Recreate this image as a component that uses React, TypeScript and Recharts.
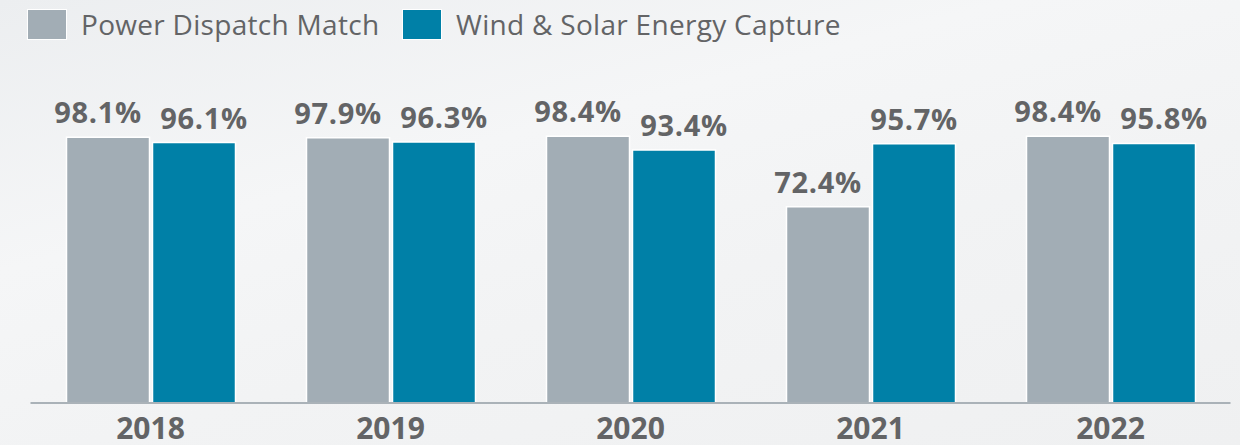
import React from 'react';
import { BarChart, Bar, XAxis, YAxis, Legend, LabelList } from 'recharts';

const YEARS = ['2018', '2019', '2020', '2021', '2022'];
const DISPATCH_MATCH = [98.1, 97.9, 98.4, 72.4, 98.4];
const ENERGY_CAPTURE = [96.1, 96.3, 93.4, 95.7, 95.8];

const GRAY = '#a2adb5';
const TEAL = '#0080a7';
const TEXT = '#636466';
const FONT = '"Open Sans", "Noto Sans", sans-serif';

const data = YEARS.map((year, i) => ({
  year,
  dispatch: DISPATCH_MATCH[i],
  capture: ENERGY_CAPTURE[i],
}));

// labels get nudged apart when the two bars of a year are close in height
function makeLabel(side: 'left' | 'right') {
  return (props: any) => {
    const { x, y, width, value, index } = props;
    const close = Math.abs(DISPATCH_MATCH[index] - ENERGY_CAPTURE[index]) < 10;
    let dx = 0;
    if (side === 'left') dx = -10;
    else if (close) dx = 10;
    return (
      <text
        x={x + width / 2 + dx}
        y={y - 14}
        textAnchor="middle"
        fill={TEXT}
        fontFamily={FONT}
        fontWeight={700}
        fontSize={29}
        letterSpacing={0.7}
      >
        {`${value.toFixed(1)}%`}
      </text>
    );
  };
}

function LegendContent() {
  const items = [
    { name: 'Power Dispatch Match', color: GRAY, x: 28 },
    { name: 'Wind & Solar Energy Capture', color: TEAL, x: 403 },
  ];
  return (
    <div style={{ position: 'relative', height: 0 }}>
      {items.map((it) => (
        <div key={it.name} style={{ position: 'absolute', left: it.x, top: 10, display: 'flex', alignItems: 'center' }}>
          <div style={{ width: 38, height: 29, background: it.color, boxShadow: '0 0 0 1px #fff' }} />
          <span
            style={{
              marginLeft: 15,
              fontFamily: FONT,
              fontSize: 28,
              color: TEXT,
              lineHeight: '29px',
              letterSpacing: 0.3,
              whiteSpace: 'nowrap',
            }}
          >
            {it.name}
          </span>
        </div>
      ))}
    </div>
  );
}

export default function App() {
  return (
    <div
      style={{
        position: 'absolute',
        left: 0,
        top: 0,
        width: 1240,
        height: 445,
        background: 'linear-gradient(165deg, #eceef0 0%, #f5f6f7 35%, #f2f3f4 60%, #eff0f1 100%)',
      }}
    >
      <BarChart
        width={1240}
        height={445}
        data={data}
        margin={{ top: 132, right: 9.5, bottom: 2, left: 30.5 }}
        barSize={83}
        barGap={3}
      >
        <XAxis
          dataKey="year"
          height={40}
          tickSize={0}
          tickMargin={15}
          axisLine={{ stroke: '#aab2b8', strokeWidth: 2 }}
          tickLine={false}
          tick={{ fill: TEXT, fontFamily: FONT, fontWeight: 700, fontSize: 30 }}
        />
        <YAxis hide domain={[0, 100]} />
        <Legend
          verticalAlign="top"
          align="left"
          content={() => <LegendContent />}
          wrapperStyle={{ top: 0, left: 0, height: 0 }}
        />
        <Bar dataKey="dispatch" name="Power Dispatch Match" fill={GRAY} stroke="#fff" strokeWidth={1.5} isAnimationActive={false}>
          <LabelList dataKey="dispatch" content={makeLabel('left')} />
        </Bar>
        <Bar dataKey="capture" name="Wind & Solar Energy Capture" fill={TEAL} stroke="#fff" strokeWidth={1.5} isAnimationActive={false}>
          <LabelList dataKey="capture" content={makeLabel('right')} />
        </Bar>
      </BarChart>
    </div>
  );
}
